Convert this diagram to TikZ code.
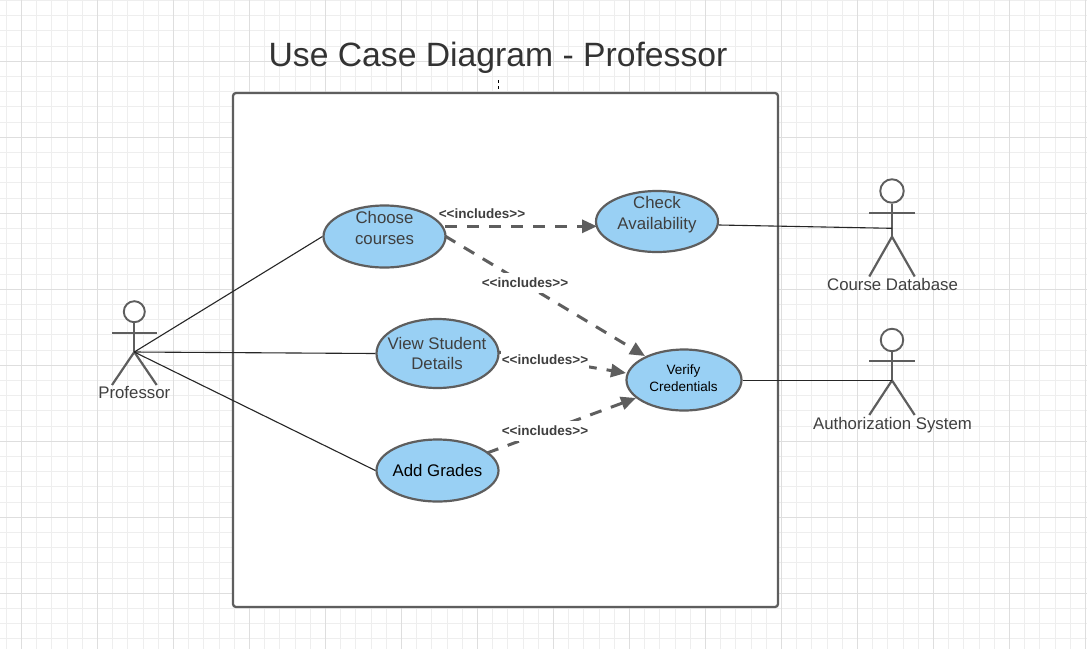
\documentclass[tikz,border=0pt]{standalone}
\usepackage{fontspec}
\setmainfont{Liberation Sans}
\usetikzlibrary{arrows.meta,shapes.geometric}
\definecolor{stroke}{HTML}{5E5E5E}
\definecolor{ucfill}{HTML}{99D0F4}
\definecolor{txt}{HTML}{3F3F3F}
\definecolor{gminor}{HTML}{EEEEEE}
\definecolor{gmajor}{HTML}{DEDEDE}
\tikzset{
  usecase/.style={ellipse,draw=stroke,fill=ucfill,line width=2.2pt,inner sep=0pt,minimum width=#1},
  uctext/.style={text=txt,font=\fontsize{16.8}{20.5}\selectfont,align=center,inner sep=0pt},
  assoc/.style={draw=black!85,line width=1.1pt},
  incl/.style={draw=stroke,line width=3pt,dash pattern=on 12pt off 10pt,-{Triangle[length=15pt,width=13pt,fill=stroke]}},
  incltext/.style={fill=white,text=txt,font=\bfseries\fontsize{13.5}{15}\selectfont,inner xsep=0.5pt,inner ysep=0pt,minimum height=20pt},
  limb/.style={draw=stroke,line width=2.2pt},
  actortext/.style={text=txt,font=\fontsize{16.8}{19}\selectfont,inner sep=0pt}
}
\begin{document}
\begin{tikzpicture}[x=1pt,y=-1pt]
\useasboundingbox (0,0) rectangle (1087,649);
\fill[white] (0,0) rectangle (1087,649);
% grid
\foreach \k in {-1,...,71}{\draw[gminor,line width=0.9pt] ({21.5+15.2*\k},0) -- ({21.5+15.2*\k},649);}
\foreach \k in {-4,...,38}{\draw[gminor,line width=0.9pt] (0,{61.3+15.2*\k}) -- (1087,{61.3+15.2*\k});}
\foreach \k in {0,...,14}{\draw[gmajor,line width=1.1pt] ({21.5+76*\k},0) -- ({21.5+76*\k},649);}
\foreach \k in {0,...,7}{\draw[gmajor,line width=1.1pt] (0,{61.3+76*\k}) -- (1087,{61.3+76*\k});}
% title
\node[text=black!80,font=\fontsize{33.7}{38}\selectfont,inner sep=0pt,anchor=base] (title) at (498,66) {Use Case Diagram - Professor};
% system boundary
\node[draw=stroke,fill=white,line width=2.3pt,rounded corners=3pt,minimum width=545pt,minimum height=514pt,inner sep=0pt] (system) at (505.5,350) {};
\coordinate (tick) at (498,80);
\draw[stroke,line width=1pt,dash pattern=on 3pt off 3pt] (tick) -- (tick|-system.north);
% use cases
\node[usecase=122pt,minimum height=62pt] (choose) at (384.5,236.5) {};
\node[usecase=122pt,minimum height=61pt] (check) at (657,221.5) {};
\node[usecase=122pt,minimum height=69pt] (view) at (437.5,353.5) {};
\node[usecase=122pt,minimum height=62pt] (add) at (437.5,470.5) {};
\node[usecase=115pt,minimum height=61pt] (verify) at (684,380) {};
\node[uctext] (choosetext) at (384.5,228) {Choose\\courses};
\node[uctext] (checktext) at (657,214.5) {Check\\Availability};
\node[uctext] (viewtext) at (437,353.5) {View Student\\Details};
\node[uctext,text=black] (addtext) at (437.5,470) {Add Grades};
\node[uctext,text=black,font=\fontsize{13.5}{17}\selectfont] (verifytext) at (683.5,378) {Verify\\Credentials};
% actors
\coordinate (profhip) at (134.3,352);
\coordinate (dbhip) at (892,236.7);
\coordinate (dbjoin) at (892,228.3);
\coordinate (authhip) at (892,380.4);
\node[circle,draw=stroke,fill=white,line width=1.9pt,minimum size=21pt,inner sep=0pt] (profhead) at (134.3,311.7) {};
\draw[limb] (profhead.south) -- (profhip);
\draw[limb] (112,332.7) -- (156.7,332.7);
\draw[limb] (112,385) -- (profhip) -- (156.7,385);
\node[circle,draw=stroke,fill=white,line width=1.9pt,minimum size=23.5pt,inner sep=0pt] (dbhead) at (892,191) {};
\draw[limb] (dbhead.south) -- (dbhip);
\draw[limb] (869.3,213.3) -- (914.7,213.3);
\draw[limb] (869.3,276.5) -- (dbhip) -- (914.7,276.5);
\node[circle,draw=stroke,fill=white,line width=1.9pt,minimum size=22.5pt,inner sep=0pt] (authhead) at (892,340) {};
\draw[limb] (authhead.south) -- (authhip);
\draw[limb] (869.3,361.3) -- (914.7,361.3);
\draw[limb] (869.3,415) -- (authhip) -- (914.7,415);
\node[actortext] (proflabel) at (134.3,392.7) {Professor};
\node[actortext] (dblabel) at (892.5,284.7) {Course Database};
\node[actortext] (authlabel) at (892.5,424.8) {Authorization System};
% associations
\draw[assoc] (profhip) -- (choose.west);
\draw[assoc] (profhip) -- (view.west);
\draw[assoc] (profhip) -- (add.west);
\draw[assoc] ([yshift=-3.5pt]check.east) -- (dbjoin);
\draw[assoc] ([yshift=-0.4pt]verify.east) -- (authhip);
% includes
\coordinate (chooseout) at (445,226.3);
\coordinate (checkin) at (597,226.3);
\coordinate (chooseout2) at (445,236);
\coordinate (verifyin1) at (645,356);
\coordinate (viewout) at (498,352);
\coordinate (verifyin2) at (626,373);
\coordinate (addout) at (487,453);
\coordinate (verifyin3) at (636,398);
\draw[incl] (chooseout) -- (checkin);
\draw[incl] (chooseout2) -- (verifyin1);
\draw[incl] (viewout) -- (verifyin2);
\draw[incl] (addout) -- (verifyin3);
\node[incltext,fill=none] (l1) at (482,213.7) {<{}<includes>{}>};
\node[incltext] (l2) at (525,282.7) {<{}<includes>{}>};
\node[incltext] (l3) at (545,359.7) {<{}<includes>{}>};
\node[incltext] (l4) at (545,430.7) {<{}<includes>{}>};
\end{tikzpicture}
\end{document}
